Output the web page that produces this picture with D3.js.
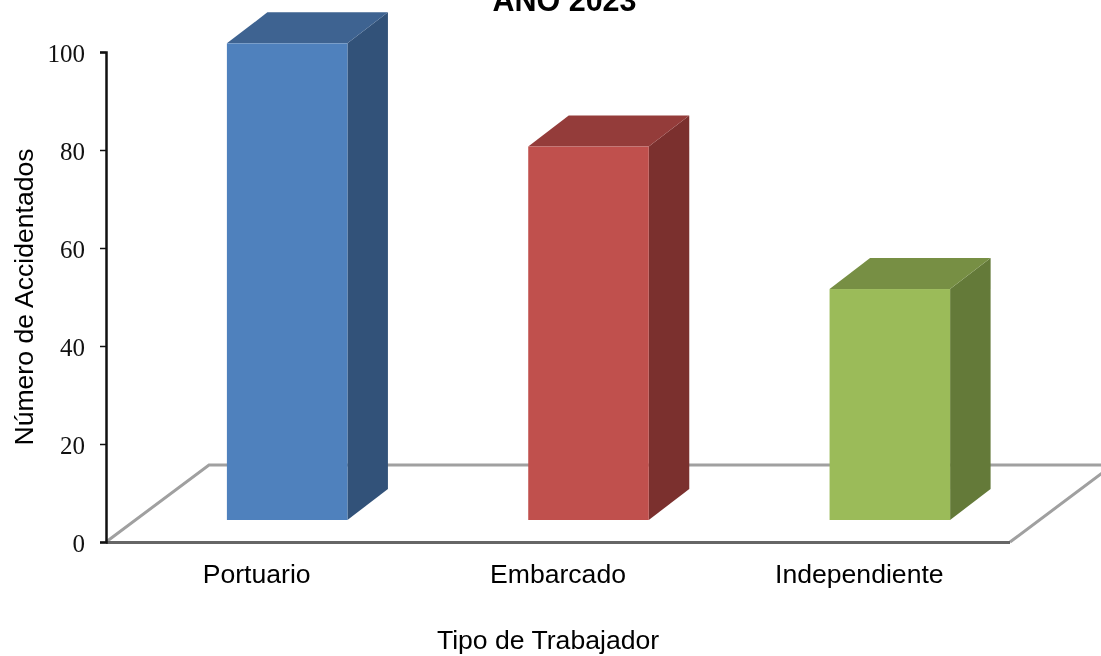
<!DOCTYPE html>
<html>
<head>
<meta charset="utf-8">
<script src="https://cdnjs.cloudflare.com/ajax/libs/d3/7.8.5/d3.min.js"></script>
<style>
    html, body { margin: 0; padding: 0; background: #fff; overflow: hidden; }
    svg { filter: blur(0.4px); }
    text { font-family: "Liberation Sans", Arial, sans-serif; fill: #000; }
    .tick text { font-family: "Liberation Serif", serif; font-size: 25px; fill: #111; }
</style>
</head>
<body>
<script>
// chart values
var categories = ["Portuario", "Embarcado", "Independiente"];
var accidents = [97, 76, 47];
var yTicks = [0, 20, 40, 60, 80, 100];
var frontColors = ["#4f81bd", "#c0504d", "#9bbb59"];
var topColors = ["#3e6391", "#943c3a", "#778f44"];
var sideColors = ["#325279", "#7b302e", "#647a39"];

var width = 1101,
    height = 656;

var margin = { left: 106, right: 91, top: 52, bottom: 114 };

var svg = d3.select("body")
    .append("svg")
    .attr("width", width)
    .attr("height", height);

var x = d3.scaleBand()
    .domain(categories)
    .range([margin.left, width - margin.right])
    .paddingInner(0.6)
    .paddingOuter(0.3);

// band centres for the labels, without the bars' padding
var xLabel = d3.scalePoint()
    .domain(categories)
    .range([margin.left, width - margin.right])
    .padding(0.5);

var y = d3.scaleLinear()
    .domain([0, 100])
    .range([height - margin.bottom, margin.top]);

// the bars stand further in, so their scale is a little larger than the axis
var yBar = d3.scaleLinear()
    .domain([0, 100])
    .range([height - margin.bottom, margin.top - 1.4]);

// how far the floor runs back, and where the bars stand on it
var floorDepth = { dx: 103, dy: -77 };
var barShift = { dx: 30.5, dy: -22 };
var barDepth = { dx: 40.5, dy: -31 };

var x0 = margin.left,
    x1 = width - margin.right,
    y0 = y(0);

// floor
var floorPath = "M" + x0 + "," + y0 +
    "L" + (x0 + floorDepth.dx) + "," + (y0 + floorDepth.dy) +
    "L" + (x1 + floorDepth.dx) + "," + (y0 + floorDepth.dy) +
    "L" + x1 + "," + y0;

svg.append("path")
    .attr("d", floorPath)
    .attr("fill", "none")
    .attr("stroke", "#a0a0a0")
    .attr("stroke-width", 3);

svg.append("line")
    .attr("x1", x0).attr("x2", x1)
    .attr("y1", y0 + 0.5).attr("y2", y0 + 0.5)
    .attr("stroke", "#666")
    .attr("stroke-width", 3);

// bars, each one a front, a top and a side
var bars = svg.selectAll(".bar")
    .data(categories.map(function(c, i) {
        return { name: c, value: accidents[i], i: i };
    }))
    .enter()
    .append("g")
    .attr("class", "bar")
    .attr("transform", "translate(" + barShift.dx + "," + barShift.dy + ")");

bars.append("path")
    .attr("fill", function(d) { return sideColors[d.i]; })
    .attr("d", function(d) {
        var r = x(d.name) + x.bandwidth();
        return "M" + r + "," + yBar(d.value) +
            "l" + barDepth.dx + "," + barDepth.dy +
            "L" + (r + barDepth.dx) + "," + (y0 + barDepth.dy) +
            "L" + r + "," + y0 + "Z";
    });

bars.append("path")
    .attr("fill", function(d) { return topColors[d.i]; })
    .attr("d", function(d) {
        var l = x(d.name);
        return "M" + l + "," + yBar(d.value) +
            "l" + barDepth.dx + "," + barDepth.dy +
            "h" + x.bandwidth() +
            "l" + (-barDepth.dx) + "," + (-barDepth.dy) + "Z";
    });

bars.append("rect")
    .attr("fill", function(d) { return frontColors[d.i]; })
    .attr("x", function(d) { return x(d.name); })
    .attr("y", function(d) { return yBar(d.value); })
    .attr("width", x.bandwidth())
    .attr("height", function(d) { return y0 - yBar(d.value); });

// y axis
var yAxis = svg.append("g")
    .attr("transform", "translate(" + margin.left + ",0)")
    .call(d3.axisLeft(y).tickValues(yTicks).tickSize(6).tickPadding(15));

yAxis.selectAll("path, line")
    .attr("stroke", "#111")
    .attr("stroke-width", 1.5);
yAxis.select(".domain").attr("stroke-width", 2.5);
yAxis.selectAll(".tick text").attr("fill", "#111").attr("dy", "0.38em");

// category labels
svg.selectAll(".cat")
    .data(categories)
    .enter()
    .append("text")
    .attr("class", "cat")
    .attr("x", function(d) { return xLabel(d); })
    .attr("y", 583)
    .attr("text-anchor", "middle")
    .style("font-size", "26.6px")
    .text(function(d) { return d; });

svg.append("text")
    .attr("x", 548)
    .attr("y", 649)
    .attr("text-anchor", "middle")
    .style("font-size", "26.6px")
    .text("Tipo de Trabajador");

svg.append("text")
    .attr("transform", "translate(33,297) rotate(-90)")
    .attr("text-anchor", "middle")
    .style("font-size", "26.6px")
    .text("Número de Accidentados");

// the reference crops this title at the top edge too
svg.append("text")
    .attr("x", 564.5)
    .attr("y", 10.5)
    .attr("text-anchor", "middle")
    .style("font-size", "30.5px")
    .style("font-weight", "bold")
    .text("AÑO 2023");
</script>
</body>
</html>
